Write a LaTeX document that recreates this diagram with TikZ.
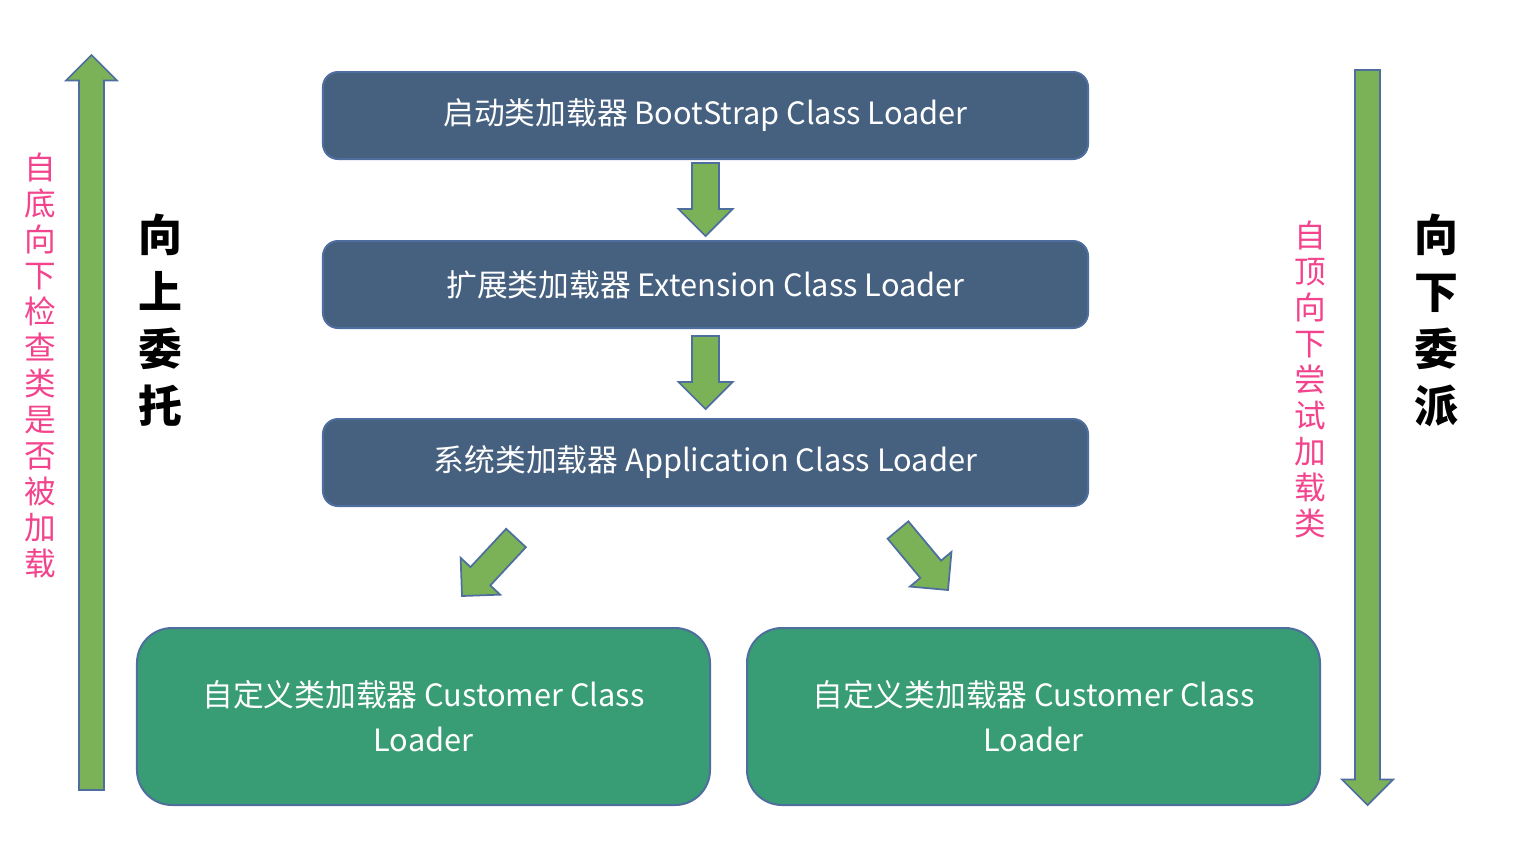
\documentclass[tikz,border=0pt]{standalone}
\usepackage{fontspec}
\setmainfont{Noto Sans CJK SC}
\usepackage{xcolor}
\usepackage{tikz}
\usetikzlibrary{calc}
\definecolor{boxblue}{HTML}{46607F}
\definecolor{boxline}{HTML}{4E6E9E}
\definecolor{boxgreen}{HTML}{389C74}
\definecolor{arrowgreen}{HTML}{7BB257}
\definecolor{notepink}{HTML}{F2438C}

% block arrow from #1 to #2, half shaft width #3, half head width #4
\newcommand{\blockarrow}[4]{%
  \coordinate (hc) at ($(#2)!#4!(#1)$);
  \draw[arrowbody] ($(#1)!#3!90:(#2)$) -- ($(hc)!#3!90:(#2)$) -- ($(hc)!#4!90:(#2)$) -- (#2)
    -- ($(hc)!#4!-90:(#2)$) -- ($(hc)!#3!-90:(#2)$) -- ($(#1)!#3!-90:(#2)$) -- cycle;
}

\begin{document}
\begin{tikzpicture}[x=0.2mm, y=-0.2mm,
    loaderbox/.style={rectangle, rounded corners=3mm, fill=boxblue, draw=boxline, line width=0.4mm,
      minimum width=153mm, minimum height=17.4mm, text=white, font=\fontsize{17.5pt}{20pt}\selectfont},
    custombox/.style={loaderbox, rounded corners=7mm, fill=boxgreen, minimum width=114.6mm,
      minimum height=35.4mm, align=center, font=\fontsize{17.5pt}{9mm}\selectfont},
    arrowbody/.style={fill=arrowgreen, draw=boxline, line width=0.35mm, line join=miter},
    pinknote/.style={text=notepink, align=center, font=\fontsize{18pt}{7.2mm}\selectfont},
    sidenote/.style={text=black, align=center, font=\fontsize{25pt}{11.4mm}\selectfont\bfseries}]
    \useasboundingbox (0,0) rectangle (1526,862);

    % The three loaders in the chain
    \node[loaderbox] (boot) at (705.5,115.5) {启动类加载器 BootStrap Class Loader};
    \node[loaderbox] (ext) at (705.5,284.5) {扩展类加载器 Extension Class Loader};
    \node[loaderbox] (app) at (705.5,462.5) {系统类加载器 Application Class Loader};

    % The two custom loaders
    \node[custombox] (custleft) at (423.5,716.5) {自定义类加载器 Customer Class\\Loader};
    \node[custombox] (custright) at (1033.5,716.5) {自定义类加载器 Customer Class\\Loader};

    % Arrows between the loaders
    \coordinate (bootout) at ($(boot.south)+(0,3)$);
    \coordinate (extin) at ($(ext.north)+(0,-4)$);
    \coordinate (extout) at ($(ext.south)+(0,7)$);
    \coordinate (appin) at ($(app.north)+(0,-9)$);
    \blockarrow{bootout}{extin}{2.7mm}{5.4mm}
    \blockarrow{extout}{appin}{2.7mm}{5.4mm}

    \coordinate (leftout) at (516,538);
    \coordinate (leftin) at (462,596);
    \coordinate (rightout) at (898,530);
    \coordinate (rightin) at (948,590);
    \blockarrow{leftout}{leftin}{2.7mm}{5.4mm}
    \blockarrow{rightout}{rightin}{2.7mm}{5.4mm}

    % The long arrows at the sides
    \coordinate (upfrom) at (91.5,790);
    \coordinate (upto) at (91.5,55);
    \coordinate (downfrom) at (1367.5,70);
    \coordinate (downto) at (1367.5,805);
    \blockarrow{upfrom}{upto}{2.5mm}{5.1mm}
    \blockarrow{downfrom}{downto}{2.5mm}{5.1mm}

    % Side labels
    \node[pinknote] (checknote) at (40,365.5) {自\\底\\向\\下\\检\\查\\类\\是\\否\\被\\加\\载};
    \node[sidenote] (upnote) at (160,320) {向\\上\\委\\托};
    \node[pinknote] (trynote) at (1310,379) {自\\顶\\向\\下\\尝\\试\\加\\载\\类};
    \node[sidenote] (downnote) at (1436,320) {向\\下\\委\\派};

\end{tikzpicture}
\end{document}
